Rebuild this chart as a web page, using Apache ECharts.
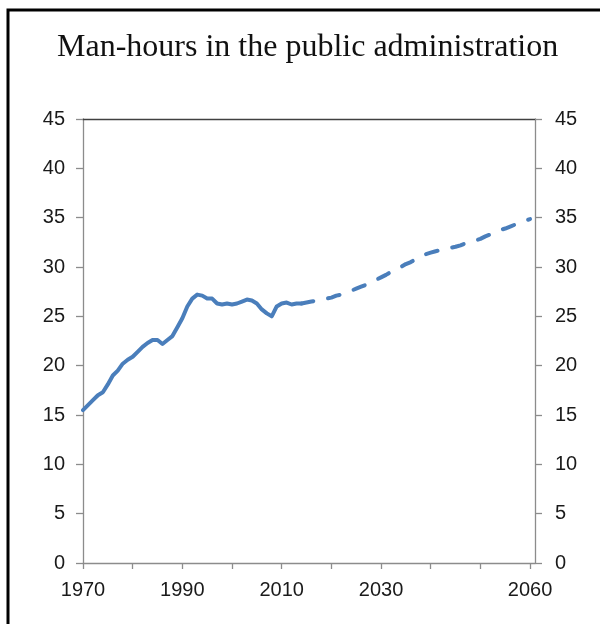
<!DOCTYPE html>
<html>
<head>
<meta charset="utf-8">
<script src="https://cdn.jsdelivr.net/npm/echarts@6/dist/echarts.min.js"></script>
<style>
html,body{margin:0;padding:0;background:#fff;}
#chart{width:600px;height:624px;}
</style>
</head>
<body>
<div id="chart"></div>
<script>
const titleText = 'Man-hours in the public administration';
const yTicks = [0, 5, 10, 15, 20, 25, 30, 35, 40, 45];
const xTickYears = [1970, 1980, 1990, 2000, 2010, 2020, 2030, 2040, 2050, 2060];
const xLabelYears = [1970, 1990, 2010, 2030, 2060];

const historyYears = [1970,1971,1972,1973,1974,1975,1976,1977,1978,1979,1980,1981,1982,1983,1984,1985,1986,1987,1988,1989,1990,1991,1992,1993,1994,1995,1996,1997,1998,1999,2000,2001,2002,2003,2004,2005,2006,2007,2008,2009,2010,2011,2012,2013,2014];
const historyValues = [15.5,16.0,16.5,17.0,17.3,18.1,19.0,19.5,20.2,20.6,20.9,21.4,21.9,22.3,22.6,22.6,22.2,22.6,23.0,23.9,24.8,26.0,26.8,27.2,27.1,26.8,26.8,26.3,26.2,26.3,26.2,26.3,26.5,26.7,26.6,26.3,25.7,25.3,25.0,26.0,26.3,26.4,26.2,26.3,26.3];

const projYears = [2014,2015,2016,2017,2018,2019,2020,2021,2022,2023,2024,2025,2026,2027,2028,2029,2030,2031,2032,2033,2034,2035,2036,2037,2038,2039,2040,2041,2042,2043,2044,2045,2046,2047,2048,2049,2050,2051,2052,2053,2054,2055,2056,2057,2058,2059,2060];
const projValues = [26.3,26.4,26.5,26.6,26.7,26.8,26.9,27.1,27.2,27.4,27.6,27.8,28.0,28.2,28.4,28.7,28.95,29.2,29.5,29.8,30.0,30.3,30.5,30.8,31.0,31.3,31.45,31.6,31.7,31.85,31.95,32.05,32.2,32.4,32.55,32.7,32.85,33.1,33.3,33.55,33.75,33.9,34.1,34.3,34.5,34.7,34.85];

const historyData = historyYears.map((y, i) => [y, historyValues[i]]);
const projData = projYears.map((y, i) => [y, projValues[i]]);

const axisGrey = '#8c8c8c';
const labelColor = '#1a1a1a';
const labelFont = { fontFamily: 'Liberation Sans', fontSize: 20, color: labelColor };

const chart = echarts.init(document.getElementById('chart'), null, { renderer: 'canvas' });
chart.setOption({
  animation: false,
  backgroundColor: '#ffffff',
  title: {
    text: titleText,
    left: 57,
    top: 32,
    padding: 0,
    textStyle: { fontFamily: 'Liberation Serif', fontSize: 32, fontWeight: 'normal', color: '#111' }
  },
  graphic: [{
    type: 'rect',
    shape: { x: 8, y: 10, width: 700, height: 700 },
    style: { fill: null, stroke: '#000', lineWidth: 3 },
    silent: true
  }],
  grid: { left: 83, right: 65, top: 119, bottom: 61, containLabel: false },
  xAxis: [{
    type: 'value',
    min: 1970,
    max: 2061,
    axisLine: { show: true, onZero: false, lineStyle: { color: axisGrey, width: 1.3 } },
    axisTick: { show: true, inside: false, length: 6, lineStyle: { color: axisGrey, width: 1.3 }, customValues: xTickYears },
    axisLabel: Object.assign({ margin: 17, customValues: xLabelYears, formatter: v => String(v) }, labelFont),
    splitLine: { show: false }
  }, {
    type: 'value',
    position: 'top',
    min: 1970,
    max: 2061,
    axisLine: { show: true, onZero: false, lineStyle: { color: '#404040', width: 1.3 } },
    axisTick: { show: false },
    axisLabel: { show: false },
    splitLine: { show: false }
  }],
  yAxis: [{
    type: 'value',
    min: 0,
    max: 45,
    interval: 5,
    axisLine: { show: true, onZero: false, lineStyle: { color: axisGrey, width: 1.3 } },
    axisTick: { show: true, inside: false, length: 7, lineStyle: { color: axisGrey, width: 1.3 } },
    axisLabel: Object.assign({ margin: 18 }, labelFont),
    splitLine: { show: false }
  }, {
    type: 'value',
    position: 'right',
    min: 0,
    max: 45,
    interval: 5,
    axisLine: { show: true, onZero: false, lineStyle: { color: axisGrey, width: 1.3 } },
    axisTick: { show: true, inside: false, length: 7, lineStyle: { color: axisGrey, width: 1.3 } },
    axisLabel: Object.assign({ margin: 20 }, labelFont),
    splitLine: { show: false }
  }],
  series: [{
    type: 'line',
    name: 'History',
    data: historyData,
    showSymbol: false,
    symbol: 'none',
    smooth: false,
    lineStyle: { color: '#4a7ebb', width: 4, cap: 'round', join: 'round' }
  }, {
    type: 'line',
    name: 'Projection',
    data: projData,
    showSymbol: false,
    symbol: 'none',
    smooth: false,
    lineStyle: { color: '#4a7ebb', width: 4, type: [12, 15], cap: 'round', join: 'round' }
  }]
});
</script>
</body>
</html>
